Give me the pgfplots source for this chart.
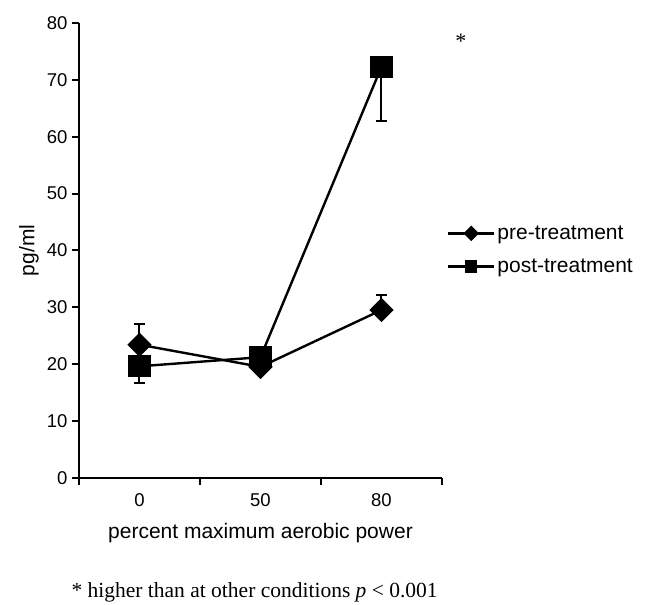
\documentclass[border=0pt]{standalone}
\usepackage{fontspec}
\setmainfont{Liberation Sans}
\newfontfamily\serif{Liberation Serif}
\usepackage{pgfplots}
\pgfplotsset{compat=1.18}
\begin{document}
\begin{tikzpicture}
\useasboundingbox (-79pt,-127.3pt) rectangle (572pt,477.7pt);
\begin{axis}[
  at={(0,0)}, anchor=south west,
  scale only axis, width=363pt, height=454.7pt,
  xmin=0, xmax=3, ymin=0, ymax=80,
  axis x line=bottom, axis y line=left,
  axis line style={line width=2.2pt, -},
  tick style={line width=2pt, black},
  tick align=outside, major tick length=7pt,
  /pgf/number format/assume math mode=true,
  ytick={0,10,...,80},
  xtick={0,1,2,3}, xticklabels={},
  extra x ticks={0.5,1.5,2.5}, extra x tick labels={0,50,80},
  extra x tick style={major tick length=0pt, xticklabel style={yshift=-12pt}},
  ticklabel style={font=\fontsize{18.5}{20}\selectfont},
  yticklabel style={xshift=-1pt},
  xlabel={percent maximum aerobic power},
  ylabel={pg/ml},
  every axis x label/.style={at={(axis description cs:0.5,-0.121)}, anchor=center, font=\fontsize{21}{24}\selectfont},
  every axis y label/.style={at={(axis description cs:-0.138,0.5)}, rotate=90, anchor=center, font=\fontsize{21}{24}\selectfont},
  clip=false,
  legend style={at={(axis cs:3.04,44.7)}, anchor=north west, draw=none, fill=none,
    font=\fontsize{21}{24}\selectfont, row sep=14pt, inner sep=0pt},
  legend cell align=left,
  legend image code/.code={\draw[mark repeat=2,mark phase=2,line width=2.4pt,#1] plot coordinates {(0pt,0pt) (23pt,0pt) (46pt,0pt)};},
]
\addplot[black, line width=2.4pt, mark=square*, mark size=7.4pt, mark options={rotate=45, solid},
  legend image post style={mark size=4.3pt},
  error bars/.cd, y dir=plus, y explicit,
  error bar style={line width=2pt},
  error mark options={rotate=90, mark size=5.5pt, line width=2pt}]
  coordinates {(0.5,23.4) +- (0,3.6) (1.5,19.5) +- (0,0.8) (2.5,29.5) +- (0,2.6)};
\addlegendentry{pre-treatment}
\addplot[black, line width=2.4pt, mark=square*, mark size=10pt, mark options={solid},
  legend image post style={mark size=5pt},
  error bars/.cd, y dir=minus, y explicit,
  error bar style={line width=2pt},
  error mark options={rotate=90, mark size=5.5pt, line width=2pt}]
  coordinates {(0.5,19.6) +- (0,2.9) (1.5,21.2) +- (0,0.8) (2.5,72.3) +- (0,9.5)};
\addlegendentry{post-treatment}
\node[font=\serif\fontsize{22}{24}\selectfont] at (axis cs:3.157,76.8) {*};
\end{axis}
\node[anchor=west, font=\serif\fontsize{21.5}{24}\selectfont] at (-11pt,-115pt) {* higher than at other conditions \textit{p} < 0.001};
\end{tikzpicture}
\end{document}
